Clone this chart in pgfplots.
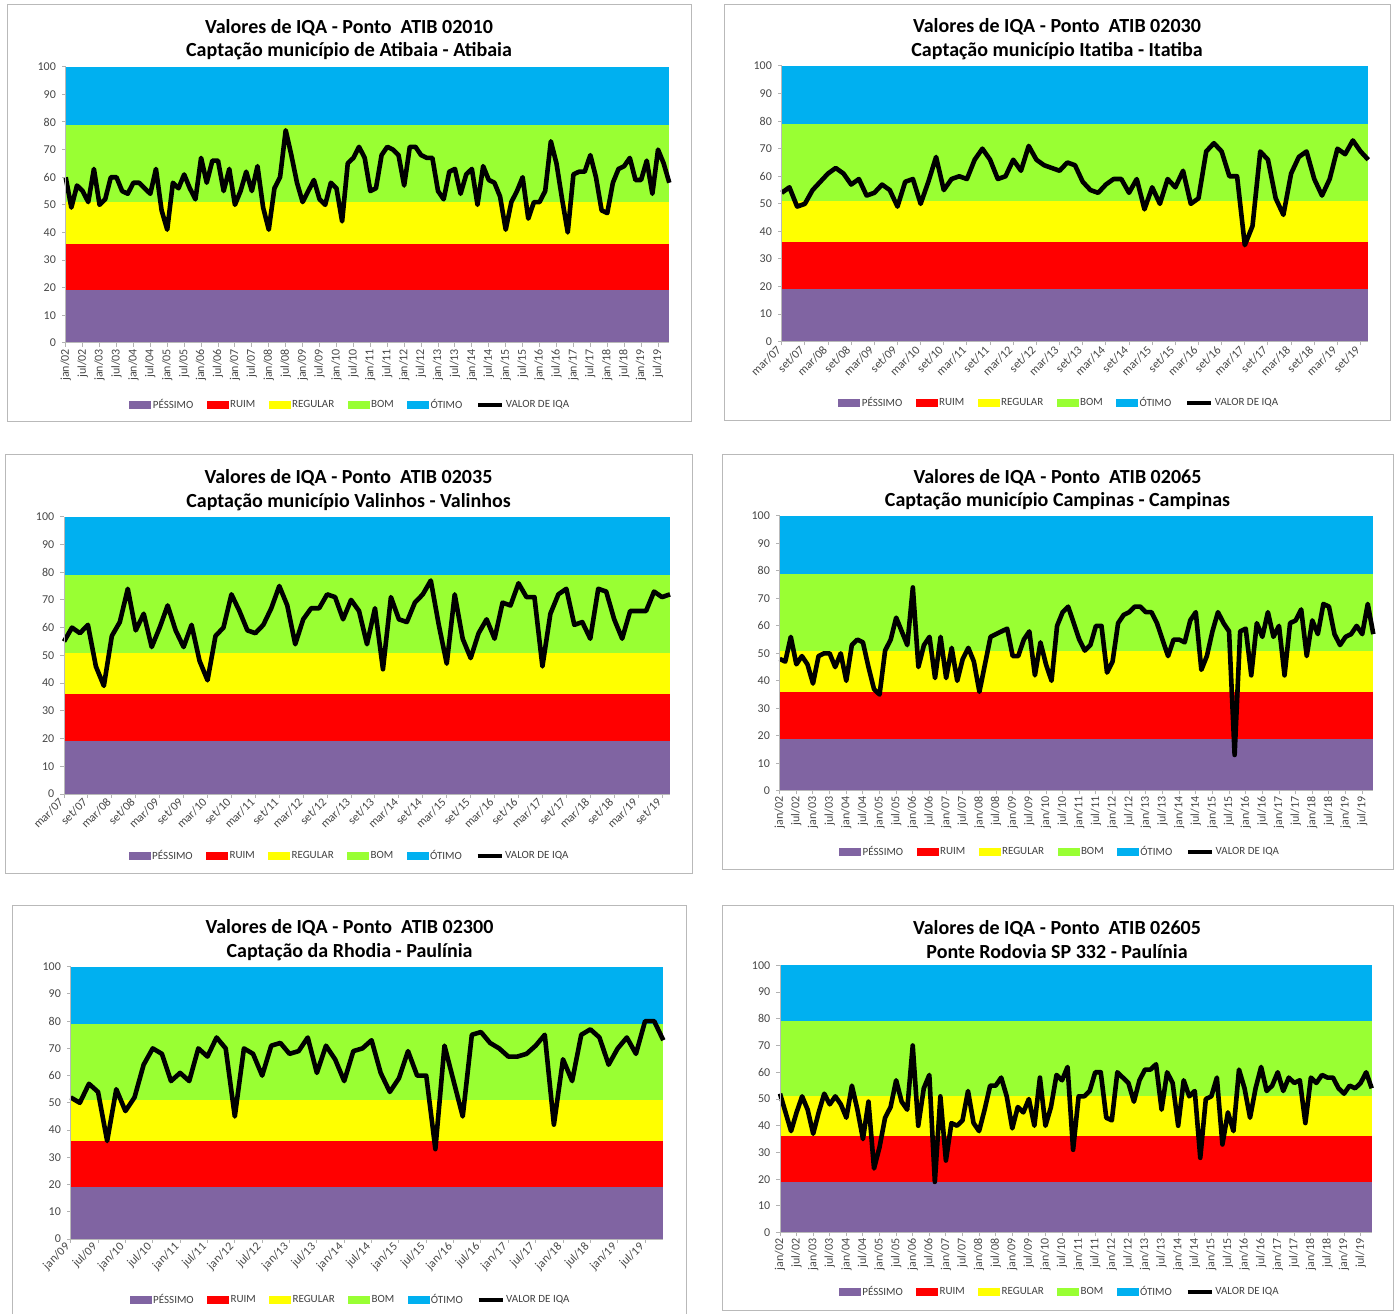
\documentclass[border=0pt]{standalone}
\usepackage{pgfplots}
\pgfplotsset{compat=1.18}
\usepackage{pgfplotstable}
\usepackage{fontspec}
\setmainfont{Carlito}

\definecolor{cPes}{HTML}{8064A2}
\definecolor{cRuim}{HTML}{FF0000}
\definecolor{cReg}{HTML}{FFFF00}
\definecolor{cBom}{HTML}{99FF33}
\definecolor{cOti}{HTML}{00B0F0}

\pgfplotstableread[row sep=\\]{v\\60\\49\\57\\55\\51\\63\\50\\52\\60\\60\\55\\54\\58\\58\\56\\54\\63\\48\\41\\58\\56\\61\\56\\52\\67\\58\\66\\66\\55\\63\\50\\55\\62\\55\\64\\49\\41\\56\\60\\77\\68\\58\\51\\55\\59\\52\\50\\58\\56\\44\\65\\67\\71\\67\\55\\56\\68\\71\\70\\68\\57\\71\\71\\68\\67\\67\\55\\52\\62\\63\\54\\61\\63\\50\\64\\59\\58\\53\\41\\51\\55\\60\\45\\51\\51\\55\\73\\65\\52\\40\\61\\62\\62\\68\\60\\48\\47\\58\\63\\64\\67\\59\\59\\66\\54\\70\\65\\58\\}\tA
\pgfplotstableread[row sep=\\]{v\\54\\56\\49\\50\\55\\58\\61\\63\\61\\57\\59\\53\\54\\57\\55\\49\\58\\59\\50\\58\\67\\55\\59\\60\\59\\66\\70\\66\\59\\60\\66\\62\\71\\66\\64\\63\\62\\65\\64\\58\\55\\54\\57\\59\\59\\54\\59\\48\\56\\50\\59\\56\\62\\50\\52\\69\\72\\69\\60\\60\\35\\42\\69\\66\\52\\46\\61\\67\\69\\59\\53\\59\\70\\68\\73\\69\\66\\}\tB
\pgfplotstableread[row sep=\\]{v\\55\\60\\58\\61\\46\\39\\57\\62\\74\\59\\65\\53\\60\\68\\59\\53\\61\\48\\41\\57\\60\\72\\66\\59\\58\\61\\67\\75\\68\\54\\63\\67\\67\\72\\71\\63\\70\\66\\54\\67\\45\\71\\63\\62\\69\\72\\77\\61\\47\\72\\56\\49\\58\\63\\56\\69\\68\\76\\71\\71\\46\\65\\72\\74\\61\\62\\56\\74\\73\\63\\56\\66\\66\\66\\73\\71\\72\\}\tC
\pgfplotstableread[row sep=\\]{v\\48\\47\\56\\46\\49\\46\\39\\49\\50\\50\\45\\50\\40\\53\\55\\54\\45\\37\\35\\51\\55\\63\\58\\53\\74\\45\\53\\56\\41\\56\\41\\52\\40\\48\\52\\47\\36\\46\\56\\57\\58\\59\\49\\49\\55\\58\\42\\54\\46\\40\\60\\65\\67\\61\\55\\51\\53\\60\\60\\43\\47\\61\\64\\65\\67\\67\\65\\65\\61\\55\\49\\55\\55\\54\\62\\65\\44\\49\\58\\65\\61\\58\\13\\58\\59\\42\\61\\56\\65\\56\\60\\42\\61\\62\\66\\49\\62\\57\\68\\67\\57\\53\\56\\57\\60\\57\\68\\57\\}\tD
\pgfplotstableread[row sep=\\]{v\\52\\50\\57\\54\\36\\55\\47\\52\\64\\70\\68\\58\\61\\58\\70\\67\\74\\70\\45\\70\\68\\60\\71\\72\\68\\69\\74\\61\\71\\66\\58\\69\\70\\73\\61\\54\\59\\69\\60\\60\\33\\71\\58\\45\\75\\76\\72\\70\\67\\67\\68\\71\\75\\42\\66\\58\\75\\77\\74\\64\\70\\74\\68\\80\\80\\73\\}\tE
\pgfplotstableread[row sep=\\]{v\\52\\45\\38\\45\\51\\46\\37\\45\\52\\48\\51\\48\\43\\55\\46\\35\\49\\24\\32\\43\\47\\57\\49\\46\\70\\40\\54\\59\\19\\51\\27\\41\\40\\42\\53\\41\\38\\46\\55\\55\\58\\51\\39\\47\\45\\50\\40\\58\\40\\47\\59\\57\\62\\31\\51\\51\\53\\60\\60\\43\\42\\60\\58\\56\\49\\57\\61\\61\\63\\46\\60\\56\\40\\57\\51\\53\\28\\50\\51\\58\\33\\45\\38\\61\\54\\43\\54\\62\\53\\55\\60\\53\\58\\56\\57\\41\\58\\56\\59\\58\\58\\54\\52\\55\\54\\56\\60\\54\\}\tF

\def\labJ{jan/02,jul/02,jan/03,jul/03,jan/04,jul/04,jan/05,jul/05,jan/06,jul/06,jan/07,jul/07,jan/08,jul/08,jan/09,jul/09,jan/10,jul/10,jan/11,jul/11,jan/12,jul/12,jan/13,jul/13,jan/14,jul/14,jan/15,jul/15,jan/16,jul/16,jan/17,jul/17,jan/18,jul/18,jan/19,jul/19}
\def\labM{mar/07,set/07,mar/08,set/08,mar/09,set/09,mar/10,set/10,mar/11,set/11,mar/12,set/12,mar/13,set/13,mar/14,set/14,mar/15,set/15,mar/16,set/16,mar/17,set/17,mar/18,set/18,mar/19,set/19}
\def\labR{jan/09,jul/09,jan/10,jul/10,jan/11,jul/11,jan/12,jul/12,jan/13,jul/13,jan/14,jul/14,jan/15,jul/15,jan/16,jul/16,jan/17,jul/17,jan/18,jul/18,jan/19,jul/19}

\pgfplotsset{
 bandleg/.style={legend image code/.code={\fill[##1] (0pt,-1.8pt) rectangle (11pt,1.8pt);}},
 lineleg/.style={legend image code/.code={\draw[##1] (0pt,0pt) -- (12pt,0pt);}},
 iqa/.style={
  scale only axis, axis on top, clip=false,
  xmin=0, ymin=0, ymax=100, ytick={0,10,...,100},
  axis lines*=left, axis line style={draw=gray!55, line width=0.5pt},
  tick align=outside, major tick length=1.8pt, tick style={draw=gray!60, line width=0.5pt},
  ticklabel style={font=\fontsize{6}{7}\selectfont, text=black!72, inner sep=0.4pt},
  /pgf/number format/assume math mode=true,
  yticklabel style={xshift=-2.5pt},
  legend columns=6,
  legend cell align=left,
  legend style={draw=none, fill=none, anchor=center, font=\fontsize{5.5}{6.5}\selectfont, text=black!75,
     /tikz/every even column/.append style={column sep=6pt},
     nodes={inner sep=0.7pt}},
 },
 xrot90/.style={xticklabel style={rotate=90, anchor=east, xshift=-0.6pt}},
 xrot45/.style={xticklabel style={rotate=45, anchor=east, inner sep=1.8pt}},
}

\newcommand{\bands}[1]{%
 \addplot[fill=cPes, draw=none, bandleg] coordinates {(0,0) (#1,0) (#1,19) (0,19)} -- cycle;
 \addlegendentry{PÉSSIMO}
 \addplot[fill=cRuim, draw=none, bandleg] coordinates {(0,19) (#1,19) (#1,36) (0,36)} -- cycle;
 \addlegendentry{RUIM}
 \addplot[fill=cReg, draw=none, bandleg] coordinates {(0,36) (#1,36) (#1,51) (0,51)} -- cycle;
 \addlegendentry{REGULAR}
 \addplot[fill=cBom, draw=none, bandleg] coordinates {(0,51) (#1,51) (#1,79) (0,79)} -- cycle;
 \addlegendentry{BOM}
 \addplot[fill=cOti, draw=none, bandleg] coordinates {(0,79) (#1,79) (#1,100) (0,100)} -- cycle;
 \addlegendentry{ÓTIMO}
}

\tikzset{ttl/.style={font=\bfseries\fontsize{10}{11.75}\selectfont, align=center}}

\begin{document}
\begin{tikzpicture}
\path[use as bounding box] (0,0) rectangle (698.5pt,656.5pt);
\begin{scope}[gray!55, line width=0.5pt]
\draw (3.5pt,445.5pt) rectangle (345.5pt,654pt);
\draw (362pt,446pt) rectangle (695pt,654pt);
\draw (2.5pt,220pt) rectangle (346pt,429pt);
\draw (361pt,222pt) rectangle (696.5pt,429pt);
\draw (6pt,-1pt) rectangle (343pt,204pt);
\draw (361pt,1.5pt) rectangle (696.5pt,204pt);
\end{scope}

\node[ttl] at (174.5pt,636.75pt) {Valores de IQA - Ponto~~ATIB 02010\\Captação município de Atibaia - Atibaia};
\node[ttl] at (528.5pt,637pt) {Valores de IQA - Ponto~~ATIB 02030\\Captação município Itatiba - Itatiba};
\node[ttl] at (174.25pt,411.5pt) {Valores de IQA - Ponto~~ATIB 02035\\Captação município Valinhos - Valinhos};
\node[ttl] at (528.75pt,411.75pt) {Valores de IQA - Ponto~~ATIB 02065\\Captação município Campinas - Campinas};
\node[ttl] at (174.75pt,186.5pt) {Valores de IQA - Ponto~~ATIB 02300\\Captação da Rhodia - Paulínia};
\node[ttl] at (528.5pt,186.75pt) {Valores de IQA - Ponto~~ATIB 02605\\Ponte Rodovia SP 332 - Paulínia};

% Panel 1
\begin{axis}[iqa, xrot90, at={(32.85pt,485pt)}, anchor=south west, width=301.8pt, height=138.15pt,
  xmax=107, xtick={0,3,...,105}, xticklabels/.expand once=\labJ,
  legend style={at={(0.471,-0.2244)}}]
\bands{107}
\addplot[black, line width=2.3pt, line join=round, lineleg] table[x expr=\coordindex, y=v] {\tA};
\addlegendentry{VALOR DE IQA}
\end{axis}

% Panel 2
\begin{axis}[iqa, xrot45, at={(390.85pt,485.65pt)}, anchor=south west, width=293.3pt, height=137.85pt,
  xmax=76, xtick={0,3,...,75}, xticklabels/.expand once=\labM,
  legend style={at={(0.4727,-0.2223)}}]
\bands{76}
\addplot[black, line width=2.3pt, line join=round, lineleg] table[x expr=\coordindex, y=v] {\tB};
\addlegendentry{VALOR DE IQA}
\end{axis}

% Panel 3
\begin{axis}[iqa, xrot45, at={(32pt,259.5pt)}, anchor=south west, width=303pt, height=138.65pt,
  xmax=76, xtick={0,3,...,75}, xticklabels/.expand once=\labM,
  legend style={at={(0.471,-0.2236)}}]
\bands{76}
\addplot[black, line width=2.3pt, line join=round, lineleg] table[x expr=\coordindex, y=v] {\tC};
\addlegendentry{VALOR DE IQA}
\end{axis}

% Panel 4
\begin{axis}[iqa, xrot90, at={(389.85pt,261.15pt)}, anchor=south west, width=296.8pt, height=137.35pt,
  xmax=107, xtick={0,3,...,105}, xticklabels/.expand once=\labJ,
  legend style={at={(0.472,-0.2231)}}]
\bands{107}
\addplot[black, line width=2.3pt, line join=round, lineleg] table[x expr=\coordindex, y=v] {\tD};
\addlegendentry{VALOR DE IQA}
\end{axis}

% Panel 5
\begin{axis}[iqa, xrot45, at={(35.35pt,37pt)}, anchor=south west, width=296.3pt, height=136.15pt,
  xmax=65, xtick={0,3,...,63}, xticklabels/.expand once=\labR,
  legend style={at={(0.472,-0.224)}}]
\bands{65}
\addplot[black, line width=2.3pt, line join=round, lineleg] table[x expr=\coordindex, y=v] {\tE};
\addlegendentry{VALOR DE IQA}
\end{axis}

% Panel 6
\begin{axis}[iqa, xrot90, at={(390pt,40.15pt)}, anchor=south west, width=295.85pt, height=133.7pt,
  xmax=107, xtick={0,3,...,105}, xticklabels/.expand once=\labJ,
  legend style={at={(0.4724,-0.2218)}}]
\bands{107}
\addplot[black, line width=2.3pt, line join=round, lineleg] table[x expr=\coordindex, y=v] {\tF};
\addlegendentry{VALOR DE IQA}
\end{axis}
\end{tikzpicture}
\end{document}
